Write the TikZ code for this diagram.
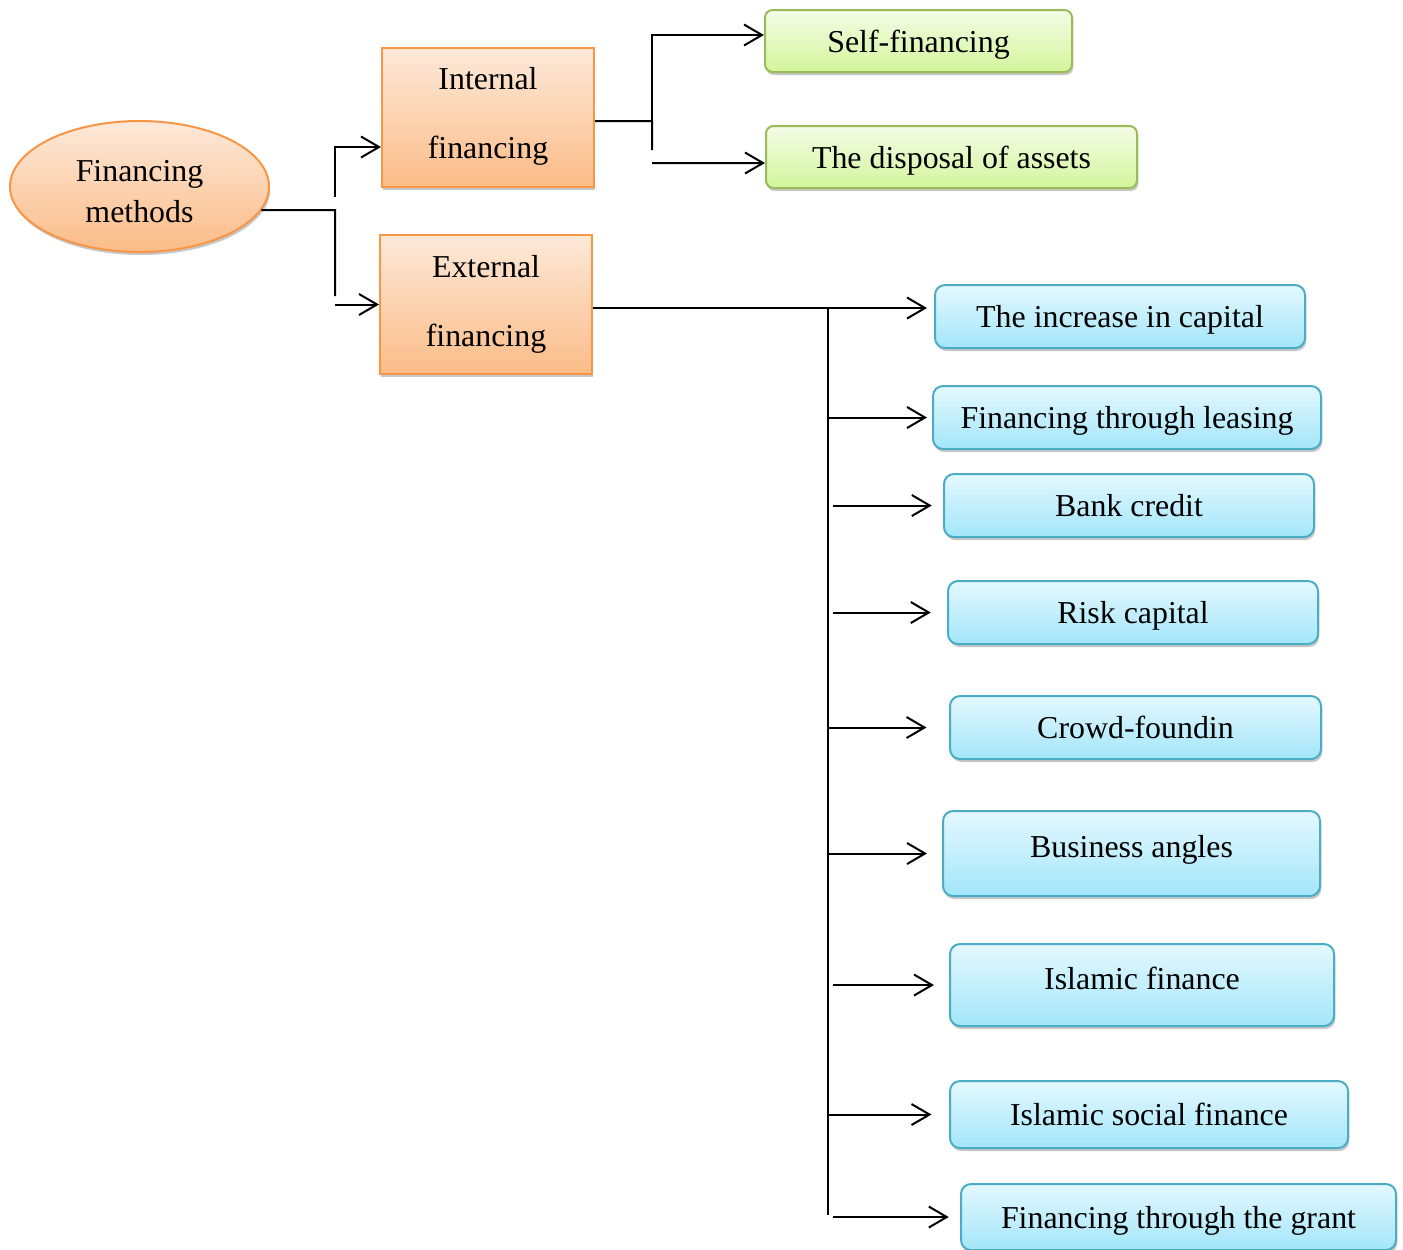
\documentclass[tikz,border=0pt]{standalone}
\usepackage{fontspec}
\setmainfont{Liberation Serif}
\usetikzlibrary{arrows.meta,shapes.geometric,shadows}

\definecolor{orline}{HTML}{F79646}
\definecolor{ortop}{HTML}{FDE9D9}
\definecolor{orbot}{HTML}{FBBC88}
\definecolor{grline}{HTML}{9BBB59}
\definecolor{grtop}{HTML}{F4FCE6}
\definecolor{grbot}{HTML}{D3F59C}
\definecolor{blline}{HTML}{4BACC6}
\definecolor{bltop}{HTML}{E4F8FE}
\definecolor{blbot}{HTML}{A3E6FA}

\begin{document}
\begin{tikzpicture}[
  x=0.4pt, y=-0.4pt,
  font=\fontsize{12.75}{15.3}\selectfont,
  soft/.style={drop shadow={shadow xshift=0.5pt, shadow yshift=-1.2pt,
    fill=black, opacity=0.22}},
  root/.style={ellipse, draw=orline, line width=0.8pt, top color=ortop,
    bottom color=orbot, soft, minimum width=103.6pt, minimum height=52.4pt,
    inner sep=0pt, align=center, font=\fontsize{12.75}{16.4}\selectfont},
  group/.style={rectangle, draw=orline, line width=0.8pt, top color=ortop,
    bottom color=orbot, soft, minimum width=84.8pt, minimum height=55.6pt,
    inner sep=0pt, align=center, font=\fontsize{12.75}{27.6}\selectfont},
  inner/.style={rectangle, rounded corners=3pt, draw=grline, line width=0.8pt,
    top color=grtop, bottom color=grbot, soft, minimum height=24.8pt,
    inner sep=0pt, text height=12pt, text depth=3pt},
  outer/.style={rectangle, rounded corners=4pt, draw=blline, line width=0.8pt,
    top color=bltop, bottom color=blbot, soft, minimum height=25.2pt,
    inner sep=0pt, text height=12pt, text depth=3pt},
  conn/.style={line width=0.8pt},
  arrow/.style={-{Straight Barb[length=7.2pt,width=8.4pt]}, line width=0.8pt},
]
\useasboundingbox (0,0) rectangle (1403,1249);

% methods and the two groups
\node[root] (root) at (139.5,186.5) {\raisebox{-6pt}[0pt][0pt]{\begin{tabular}{@{}c@{}}Financing\\methods\end{tabular}}};
\node[group] (intl) at (488,117.5) {\raisebox{0pt}[0pt][0pt]{\begin{tabular}{@{}c@{}}Internal\\financing\end{tabular}}};
\node[group] (extl) at (486,304.5) {External\\financing};

% internal sources
\node[inner, minimum width=122.8pt] (self) at (918.5,41) {Self-financing};
\node[inner, minimum width=148.4pt] (disp) at (951.5,157) {The disposal of assets};

% external sources
\node[outer, minimum width=148pt] (incr) at (1120,316.5) {The increase in capital};
\node[outer, minimum width=155.2pt] (leas) at (1127,417.5) {Financing through leasing};
\node[outer, minimum width=148pt] (bank) at (1129,505.5) {Bank credit};
\node[outer, minimum width=148pt] (risk) at (1133,612.5) {Risk capital};
\node[outer, minimum width=148.4pt] (crowd) at (1135.5,727.5) {Crowd-foundin};
\node[outer, minimum width=150.8pt, minimum height=34pt] (angl) at (1131.5,853.5) {\raisebox{2.8pt}{Business angles}};
\node[outer, minimum width=153.6pt, minimum height=32.8pt] (islm) at (1142,985) {\raisebox{2.8pt}{Islamic finance}};
\node[outer, minimum width=159.2pt, minimum height=26.8pt] (soc) at (1149,1114.5) {Islamic social finance};
\node[outer, minimum width=174pt, minimum height=26.4pt] (grant) at (1178.5,1217) {Financing through the grant};

% junctions
\coordinate (split) at (335,210);
\coordinate (splittop) at (335,197);
\coordinate (splitlow) at (335,296);
\coordinate (intfork) at (652,121);
\coordinate (intlow) at (652,150);
\coordinate (extfork) at (828,308);
\coordinate (extlow) at (828,1215);

\draw[conn] (root.-11) -- (split) -- (splitlow);
\draw[arrow] (splittop) |- ([yshift=-11.8pt]intl.west);
\draw[arrow] (split |- extl.west) -- (extl.west);

\draw[conn] ([yshift=-1.4pt]intl.east) -- (intfork) -- (intlow);
\draw[arrow] (intfork) |- ([yshift=2.4pt]self.west);
\draw[arrow] (intfork |- disp.west) ++(0,6) -- ([yshift=-2.4pt]disp.west);

\draw[arrow, shorten >=2.8pt] (extl.east |- extfork) -- (incr.west |- extfork);
\draw[conn] (extfork) -- (extlow);
\foreach \b/\s/\g in {leas/0pt/2pt, bank/2pt/4.5pt, risk/2pt/6.5pt,
    crowd/0pt/9pt, angl/0pt/6pt, islm/2pt/6pt, soc/0pt/7pt, grant/2pt/4.5pt}
  \draw[arrow, shorten <=\s, shorten >=\g] (extfork |- \b.west) -- (\b.west);
\end{tikzpicture}
\end{document}
